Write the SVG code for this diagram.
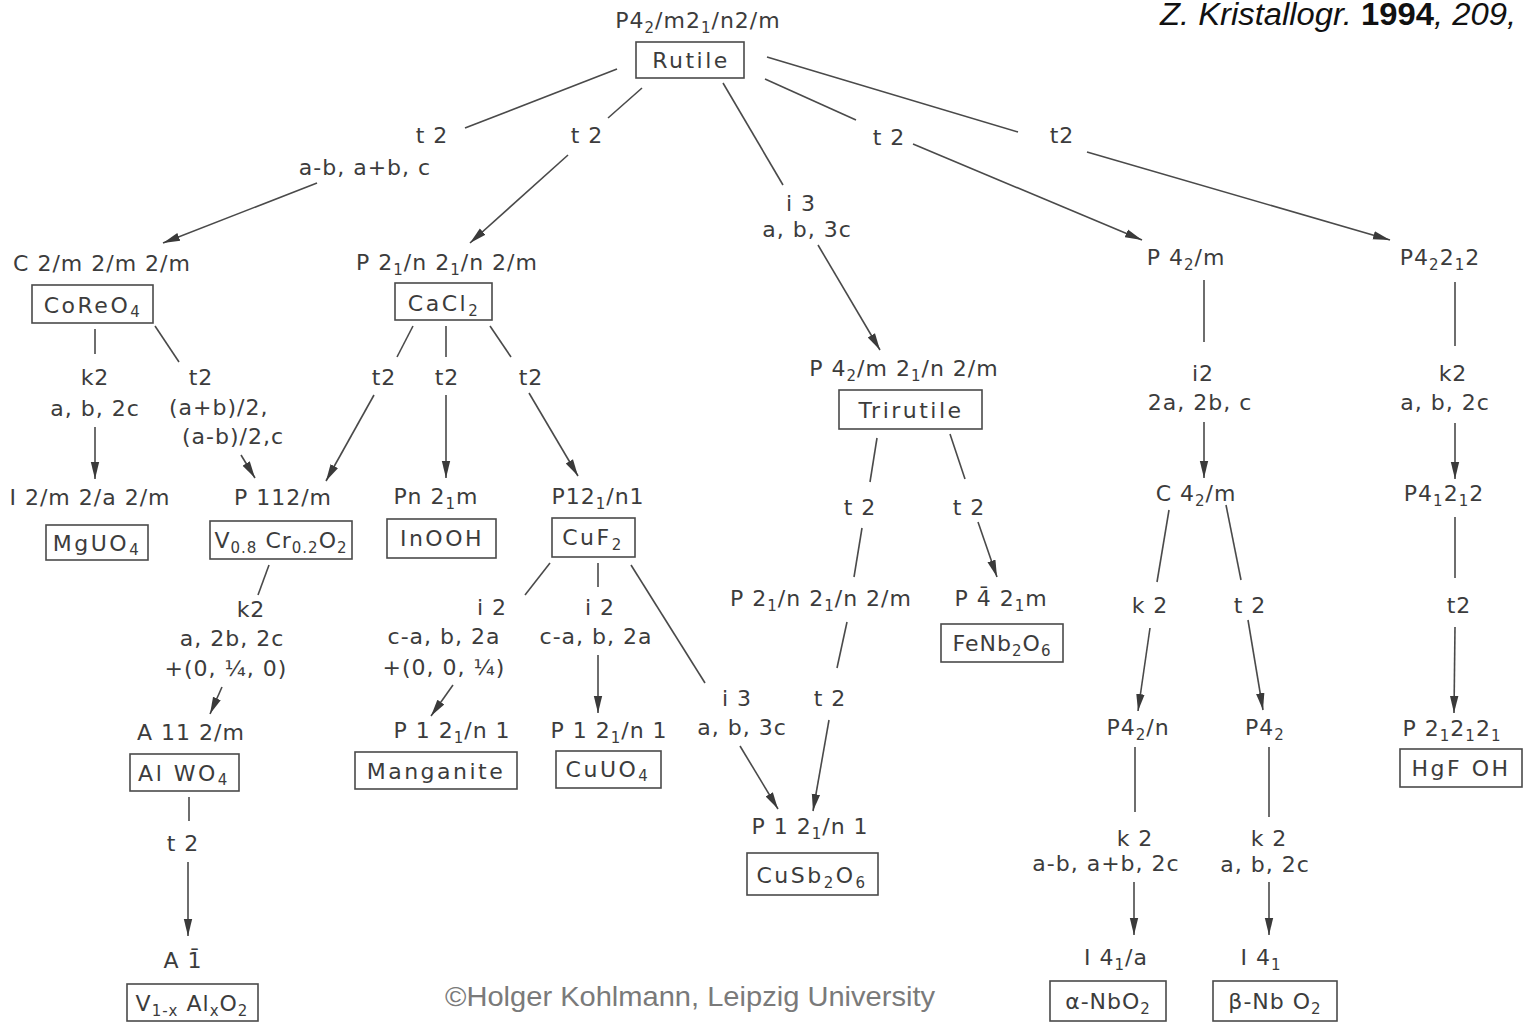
<svg xmlns="http://www.w3.org/2000/svg" width="1523" height="1023" viewBox="0 0 1523 1023">
<style>
.t{font-family:"DejaVu Sans",sans-serif;font-size:22px;fill:#3c3c3c;text-anchor:middle;letter-spacing:1px}
.st{text-anchor:start}
.b{letter-spacing:2.5px}
.s{font-size:15px}
.box{fill:none;stroke:#4a4a4a;stroke-width:1.6}
.e{stroke:#4a4a4a;stroke-width:1.6;fill:none}
.a{marker-end:url(#ah)}
</style>
<defs>
<marker id="ah" markerUnits="userSpaceOnUse" markerWidth="18" markerHeight="10" refX="17" refY="5" orient="auto"><path d="M0,0.8 L17,5 L0,9.2 z" fill="#3a3a3a"/></marker>
</defs>
<rect width="1523" height="1023" fill="#ffffff"/>

<text x="1160" y="25" font-family="Liberation Sans, sans-serif" font-size="31" font-style="italic" fill="#111" textLength="356" lengthAdjust="spacingAndGlyphs">Z. Kristallogr. <tspan font-weight="bold" font-style="normal">1994</tspan>, 209,</text>
<text x="445" y="1006" font-family="Liberation Sans, sans-serif" font-size="28" fill="#7a7a7a" textLength="490" lengthAdjust="spacingAndGlyphs">©Holger Kohlmann, Leipzig University</text>

<g id="connectors">
<line class="e" x1="617" y1="69" x2="465" y2="128"/>
<line class="e a" x1="317" y1="183" x2="163" y2="243"/>
<line class="e" x1="642" y1="88" x2="608" y2="118"/>
<line class="e a" x1="568" y1="155" x2="470" y2="243"/>
<line class="e" x1="723" y1="83" x2="783" y2="185"/>
<line class="e a" x1="818" y1="245" x2="880" y2="350"/>
<line class="e" x1="765" y1="79" x2="856" y2="120"/>
<line class="e a" x1="913" y1="144" x2="1142" y2="240"/>
<line class="e" x1="767" y1="57" x2="1018" y2="132"/>
<line class="e a" x1="1087" y1="152" x2="1390" y2="240"/>

<line class="e" x1="95" y1="329" x2="95" y2="354"/>
<line class="e a" x1="95" y1="427" x2="95" y2="479"/>
<line class="e" x1="155" y1="326" x2="179" y2="362"/>
<line class="e a" x1="241" y1="455" x2="255" y2="478"/>

<line class="e" x1="413" y1="326" x2="397" y2="357"/>
<line class="e a" x1="374" y1="395" x2="326" y2="481"/>
<line class="e" x1="446" y1="326" x2="446" y2="357"/>
<line class="e a" x1="446" y1="395" x2="446" y2="478"/>
<line class="e" x1="490" y1="326" x2="511" y2="357"/>
<line class="e a" x1="529" y1="393" x2="578" y2="476"/>

<line class="e" x1="269" y1="565" x2="258" y2="595"/>
<line class="e a" x1="222" y1="687" x2="210" y2="714"/>
<line class="e" x1="189" y1="797" x2="189" y2="821"/>
<line class="e a" x1="188" y1="862" x2="188" y2="936"/>

<line class="e" x1="550" y1="563" x2="525" y2="595"/>
<line class="e a" x1="453" y1="685" x2="431" y2="716"/>
<line class="e" x1="598" y1="563" x2="598" y2="587"/>
<line class="e a" x1="598" y1="655" x2="598" y2="713"/>
<line class="e" x1="631" y1="565" x2="705" y2="683"/>
<line class="e a" x1="740" y1="746" x2="778" y2="809"/>

<line class="e" x1="877" y1="438" x2="870" y2="482"/>
<line class="e" x1="862" y1="528" x2="854" y2="577"/>
<line class="e" x1="847" y1="622" x2="837" y2="668"/>
<line class="e a" x1="829" y1="720" x2="813" y2="811"/>
<line class="e" x1="950" y1="434" x2="965" y2="479"/>
<line class="e a" x1="978" y1="522" x2="997" y2="577"/>

<line class="e" x1="1204" y1="280" x2="1204" y2="342"/>
<line class="e a" x1="1204" y1="422" x2="1204" y2="478"/>
<line class="e" x1="1169" y1="510" x2="1157" y2="582"/>
<line class="e a" x1="1150" y1="628" x2="1138" y2="711"/>
<line class="e" x1="1226" y1="505" x2="1241" y2="580"/>
<line class="e a" x1="1248" y1="620" x2="1263" y2="710"/>
<line class="e" x1="1135" y1="747" x2="1135" y2="812"/>
<line class="e a" x1="1134" y1="882" x2="1134" y2="935"/>
<line class="e" x1="1269" y1="747" x2="1269" y2="817"/>
<line class="e a" x1="1269" y1="882" x2="1269" y2="935"/>

<line class="e" x1="1455" y1="282" x2="1455" y2="346"/>
<line class="e a" x1="1455" y1="423" x2="1455" y2="479"/>
<line class="e" x1="1455" y1="517" x2="1455" y2="578"/>
<line class="e a" x1="1455" y1="627" x2="1454" y2="713"/>
</g>

<g id="edge-labels">
<text class="t" x="432" y="143">t 2</text>
<text class="t" x="365" y="175">a-b, a+b, c</text>
<text class="t" x="587" y="143">t 2</text>
<text class="t" x="801" y="211">i 3</text>
<text class="t" x="807" y="237">a, b, 3c</text>
<text class="t" x="889" y="145">t 2</text>
<text class="t" x="1062" y="143">t2</text>

<text class="t" x="95" y="385">k2</text>
<text class="t" x="95" y="416">a, b, 2c</text>
<text class="t" x="201" y="385">t2</text>
<text class="t st" x="169" y="415">(a+b)/2,</text>
<text class="t st" x="182" y="444">(a-b)/2,c</text>

<text class="t" x="384" y="385">t2</text>
<text class="t" x="447" y="385">t2</text>
<text class="t" x="531" y="385">t2</text>

<text class="t" x="251" y="617">k2</text>
<text class="t" x="232" y="646">a, 2b, 2c</text>
<text class="t" x="226" y="676">+(0, ¼, 0)</text>
<text class="t" x="183" y="851">t 2</text>

<text class="t" x="492" y="615">i 2</text>
<text class="t" x="444" y="644">c-a, b, 2a</text>
<text class="t" x="444" y="675">+(0, 0, ¼)</text>
<text class="t" x="600" y="615">i 2</text>
<text class="t" x="596" y="644">c-a, b, 2a</text>
<text class="t" x="737" y="706">i 3</text>
<text class="t" x="742" y="735">a, b, 3c</text>

<text class="t" x="860" y="515">t 2</text>
<text class="t" x="830" y="706">t 2</text>
<text class="t" x="969" y="515">t 2</text>

<text class="t" x="1203" y="381">i2</text>
<text class="t" x="1200" y="410">2a, 2b, c</text>
<text class="t" x="1150" y="613">k 2</text>
<text class="t" x="1250" y="613">t 2</text>
<text class="t" x="1135" y="846">k 2</text>
<text class="t" x="1106" y="871">a-b, a+b, 2c</text>
<text class="t" x="1269" y="846">k 2</text>
<text class="t" x="1265" y="872">a, b, 2c</text>

<text class="t" x="1453" y="381">k2</text>
<text class="t" x="1445" y="410">a, b, 2c</text>
<text class="t" x="1459" y="613">t2</text>
</g>

<g id="n-rutile">
<text class="t" x="698" y="28">P4<tspan class="s" dy="5">2</tspan><tspan dy="-5">/m2</tspan><tspan class="s" dy="5">1</tspan><tspan dy="-5">/n2/m</tspan></text>
<rect class="box" x="636" y="42" width="108" height="36"/>
<text class="t b" x="691" y="68">Rutile</text>
</g>

<g id="n-coreo4">
<text class="t" x="102" y="271">C 2/m 2/m 2/m</text>
<rect class="box" x="32" y="285" width="121" height="38"/>
<text class="t b" x="93" y="313">CoReO<tspan class="s" dy="4">4</tspan></text>
</g>

<g id="n-cacl2">
<text class="t" x="447" y="270">P 2<tspan class="s" dy="5">1</tspan><tspan dy="-5">/n 2</tspan><tspan class="s" dy="5">1</tspan><tspan dy="-5">/n 2/m</tspan></text>
<rect class="box" x="395" y="283" width="97" height="37"/>
<text class="t b" x="444" y="311">CaCl<tspan class="s" dy="5">2</tspan></text>
</g>

<g id="n-trirutile">
<text class="t" x="904" y="376">P 4<tspan class="s" dy="5">2</tspan><tspan dy="-5">/m 2</tspan><tspan class="s" dy="5">1</tspan><tspan dy="-5">/n 2/m</tspan></text>
<rect class="box" x="839" y="390" width="143" height="39"/>
<text class="t b" x="911" y="418">Trirutile</text>
</g>

<g id="n-p42m">
<text class="t" x="1186" y="265">P 4<tspan class="s" dy="5">2</tspan><tspan dy="-5">/m</tspan></text>
</g>

<g id="n-p42212">
<text class="t" x="1440" y="265">P4<tspan class="s" dy="5">2</tspan><tspan dy="-5">2</tspan><tspan class="s" dy="5">1</tspan><tspan dy="-5">2</tspan></text>
</g>

<g id="n-mguo4">
<text class="t" x="90" y="505">I 2/m 2/a 2/m</text>
<rect class="box" x="46" y="525" width="102" height="35"/>
<text class="t b" x="97" y="551">MgUO<tspan class="s" dy="4">4</tspan></text>
</g>

<g id="n-vcro2">
<text class="t" x="283" y="505">P 112/m</text>
<rect class="box" x="210" y="521" width="142" height="38"/>
<text class="t" x="281" y="548">V<tspan class="s" dy="5">0.8</tspan><tspan dy="-5"> Cr</tspan><tspan class="s" dy="5">0.2</tspan><tspan dy="-5">O</tspan><tspan class="s" dy="5">2</tspan></text>
</g>

<g id="n-inooh">
<text class="t" x="436" y="504">Pn 2<tspan class="s" dy="5">1</tspan><tspan dy="-5">m</tspan></text>
<rect class="box" x="387" y="519" width="109" height="39"/>
<text class="t b" x="442" y="546">InOOH</text>
</g>

<g id="n-cuf2">
<text class="t" x="598" y="504">P12<tspan class="s" dy="5">1</tspan><tspan dy="-5">/n1</tspan></text>
<rect class="box" x="552" y="518" width="83" height="39"/>
<text class="t b" x="593" y="545">CuF<tspan class="s" dy="5">2</tspan></text>
</g>

<g id="n-alwo4">
<text class="t" x="191" y="740">A 11 2/m</text>
<rect class="box" x="130" y="754" width="109" height="37"/>
<text class="t b" x="184" y="781">Al WO<tspan class="s" dy="4">4</tspan></text>
</g>

<g id="n-valo2">
<text class="t" x="183" y="968">A 1&#x0304;</text>
<rect class="box" x="127" y="984" width="131" height="37"/>
<text class="t" x="192" y="1011">V<tspan class="s" dy="5">1-x</tspan><tspan dy="-5"> Al</tspan><tspan class="s" dy="5">x</tspan><tspan dy="-5">O</tspan><tspan class="s" dy="5">2</tspan></text>
</g>

<g id="n-manganite">
<text class="t" x="452" y="738">P 1 2<tspan class="s" dy="5">1</tspan><tspan dy="-5">/n 1</tspan></text>
<rect class="box" x="355" y="752" width="162" height="37"/>
<text class="t b" x="436" y="779">Manganite</text>
</g>

<g id="n-cuuo4">
<text class="t" x="609" y="738">P 1 2<tspan class="s" dy="5">1</tspan><tspan dy="-5">/n 1</tspan></text>
<rect class="box" x="556" y="751" width="105" height="37"/>
<text class="t b" x="608" y="777">CuUO<tspan class="s" dy="4">4</tspan></text>
</g>

<g id="n-cusb2o6">
<text class="t" x="810" y="834">P 1 2<tspan class="s" dy="5">1</tspan><tspan dy="-5">/n 1</tspan></text>
<rect class="box" x="747" y="853" width="131" height="42"/>
<text class="t b" x="812" y="883">CuSb<tspan class="s" dy="5">2</tspan><tspan dy="-5">O</tspan><tspan class="s" dy="5">6</tspan></text>
</g>

<g id="n-p21n21n2m">
<text class="t" x="821" y="606">P 2<tspan class="s" dy="5">1</tspan><tspan dy="-5">/n 2</tspan><tspan class="s" dy="5">1</tspan><tspan dy="-5">/n 2/m</tspan></text>
</g>

<g id="n-fenb2o6">
<text class="t" x="1001" y="606">P 4&#x0304; 2<tspan class="s" dy="5">1</tspan><tspan dy="-5">m</tspan></text>
<rect class="box" x="941" y="624" width="122" height="38"/>
<text class="t" x="1002" y="651">FeNb<tspan class="s" dy="5">2</tspan><tspan dy="-5">O</tspan><tspan class="s" dy="5">6</tspan></text>
</g>

<g id="n-c42m">
<text class="t" x="1196" y="501">C 4<tspan class="s" dy="5">2</tspan><tspan dy="-5">/m</tspan></text>
</g>

<g id="n-p42n">
<text class="t" x="1138" y="735">P4<tspan class="s" dy="5">2</tspan><tspan dy="-5">/n</tspan></text>
</g>

<g id="n-p42">
<text class="t" x="1265" y="735">P4<tspan class="s" dy="5">2</tspan></text>
</g>

<g id="n-anbo2">
<text class="t" x="1116" y="965">I 4<tspan class="s" dy="5">1</tspan><tspan dy="-5">/a</tspan></text>
<rect class="box" x="1050" y="981" width="116" height="40"/>
<text class="t" x="1108" y="1009">α-NbO<tspan class="s" dy="5">2</tspan></text>
</g>

<g id="n-bnbo2">
<text class="t" x="1261" y="965">I 4<tspan class="s" dy="5">1</tspan></text>
<rect class="box" x="1213" y="981" width="124" height="40"/>
<text class="t" x="1275" y="1009">β-Nb O<tspan class="s" dy="5">2</tspan></text>
</g>

<g id="n-p41212">
<text class="t" x="1444" y="501">P4<tspan class="s" dy="5">1</tspan><tspan dy="-5">2</tspan><tspan class="s" dy="5">1</tspan><tspan dy="-5">2</tspan></text>
</g>

<g id="n-hgfoh">
<text class="t" x="1452" y="736">P 2<tspan class="s" dy="5">1</tspan><tspan dy="-5">2</tspan><tspan class="s" dy="5">1</tspan><tspan dy="-5">2</tspan><tspan class="s" dy="5">1</tspan></text>
<rect class="box" x="1400" y="749" width="122" height="38"/>
<text class="t b" x="1461" y="776">HgF OH</text>
</g>
</svg>
